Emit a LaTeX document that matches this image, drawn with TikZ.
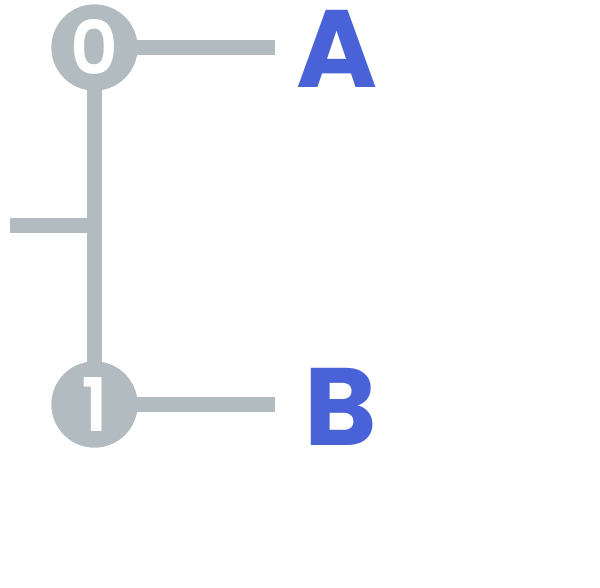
\documentclass[tikz,border=0pt]{standalone}
\usepackage{fontspec}
\setmainfont{Poppins}[BoldFont=* Bold]
\newfontfamily\digitfont{Poppins SemiBold}
\definecolor{wire}{HTML}{B2BBC0}
\definecolor{label}{HTML}{4A62D8}
\begin{document}
\begin{tikzpicture}[x=1pt,y=-1pt,
  wireline/.style={draw=wire,line width=15pt},
  qubit/.style={circle,fill=wire,minimum size=86pt,inner sep=0pt,
    text=white,font=\digitfont\fontsize{74}{74}\selectfont},
  qlabel/.style={anchor=base,inner sep=0pt,text=label,
    font=\bfseries\fontsize{110}{110}\selectfont}]
  \useasboundingbox (0,0) rectangle (600,588);
  % qubit markers
  \node[qubit] (n0) at (94.5,47.5) {};
  \node[qubit] (n1) at (94.5,404.5) {};
  % line ends
  \coordinate (e0) at (275,47.5);
  \coordinate (e1) at (275,404.5);
  \coordinate (s0) at (10,225.5);
  \coordinate (s1) at (95,225.5);
  % wires
  \draw[wireline] (n0.center) -- (n1.center);
  \draw[wireline] (n0.center) -- (e0);
  \draw[wireline] (n1.center) -- (e1);
  \draw[wireline] (s0) -- (s1);
  % markers on top
  \node[qubit] at (n0) {0};
  \node[qubit] at (n1) {1};
  % labels
  \node[qlabel] (A) at (337.5,88) {A};
  \node[qlabel] (B) at (340.5,445) {B};
\end{tikzpicture}
\end{document}
